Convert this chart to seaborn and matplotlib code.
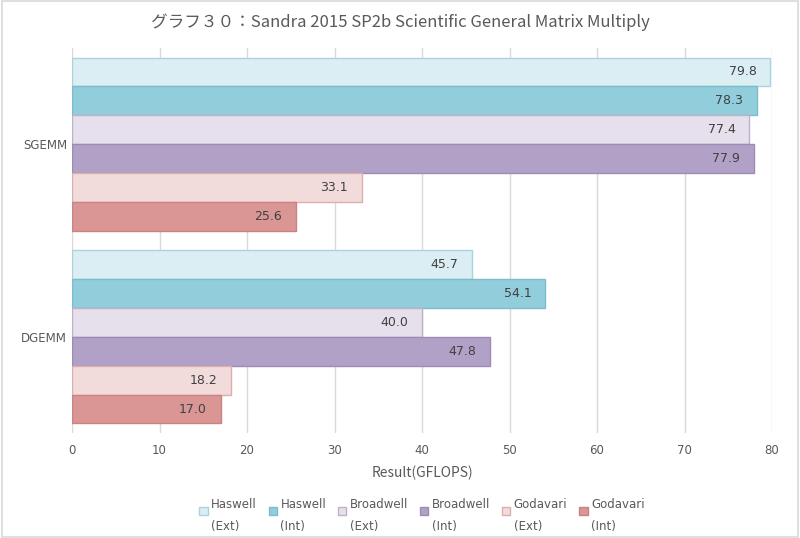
import seaborn as sns
import pandas as pd
import matplotlib.pyplot as plt
from matplotlib.patches import Rectangle
from matplotlib.legend_handler import HandlerPatch

# data
tests = ['SGEMM', 'DGEMM']
cpus = ['Haswell\n(Ext)', 'Haswell\n(Int)', 'Broadwell\n(Ext)',
        'Broadwell\n(Int)', 'Godavari\n(Ext)', 'Godavari\n(Int)']
sgemm = [79.8, 78.3, 77.4, 77.9, 33.1, 25.6]
dgemm = [45.7, 54.1, 40.0, 47.8, 18.2, 17.0]

fills = ['#DAEEF3', '#92CDDC', '#E6E0EC', '#B2A1C7', '#F2DCDB', '#D99694']
edges = ['#A9D3DF', '#7FBCCB', '#BDB2CA', '#9D8BB5', '#D9B0AE', '#C98381']

rows = []
for c, s, d in zip(cpus, sgemm, dgemm):
    rows.append({'test': 'SGEMM', 'cpu': c, 'value': s})
    rows.append({'test': 'DGEMM', 'cpu': c, 'value': d})
df = pd.DataFrame(rows)

sns.set_style('white')
plt.rcParams['font.family'] = ['Noto Sans CJK JP', 'DejaVu Sans']
txt = '#595959'


# small square marker sitting next to the first line of the label
def top_square(legend, orig_handle, xdescent, ydescent, width, height, fontsize):
    size = 0.7 * fontsize
    return Rectangle((-xdescent, -ydescent + height - size * 1.25), size, size)


fig = plt.figure(figsize=(8, 5.38), dpi=100)
ax = fig.add_axes([0.09, 0.195, 0.875, 0.716])

sns.barplot(data=df, y='test', x='value', hue='cpu', order=tests,
            hue_order=cpus, orient='h', width=0.9, palette=fills,
            saturation=1, ax=ax, zorder=2)

for i, cont in enumerate(ax.containers):
    for bar in cont:
        bar.set_edgecolor(edges[i])
        bar.set_linewidth(1.0)
    ax.bar_label(cont, fmt='%.1f', padding=-30, color='#404040', fontsize=9,
                 family=['DejaVu Sans'])

ax.set_xlim(0, 80)
ax.set_xticks(range(0, 81, 10))
ax.set_ylim(1.5, -0.5)
ax.grid(axis='x', color='#D9D9D9', linewidth=1, zorder=0)
for s in ax.spines.values():
    s.set_visible(False)
ax.tick_params(axis='both', length=0, colors=txt, labelsize=8.5)
ax.tick_params(axis='x', pad=8)
for lbl in ax.get_xticklabels() + ax.get_yticklabels():
    lbl.set_family(['DejaVu Sans'])
ax.set_ylabel('')
ax.set_xlabel('Result(GFLOPS)', color=txt, fontsize=10, labelpad=6)

fig.suptitle('グラフ３０：Sandra 2015 SP2b Scientific General Matrix Multiply',
             y=0.975, fontsize=12, color=txt)

handles, labels = ax.get_legend_handles_labels()
for h, e in zip(handles, edges):
    h.set_edgecolor(e)
leg = ax.legend(handles, labels, loc='upper center',
                bbox_to_anchor=(0.5, -0.14), ncol=6, frameon=False,
                fontsize=8.5, handlelength=0.7, handleheight=2.6,
                handletextpad=0.3, columnspacing=1.0, labelcolor=txt,
                handler_map={h: HandlerPatch(patch_func=top_square) for h in handles})
for t in leg.get_texts():
    t.set_linespacing(1.9)
    t.set_family(['DejaVu Sans'])

fig.patches.append(Rectangle((0.002, 0.002), 0.996, 0.996,
                             transform=fig.transFigure, fill=False,
                             edgecolor='#D9D9D9', linewidth=1.2))

plt.savefig('out.png', dpi=100)
plt.close()
